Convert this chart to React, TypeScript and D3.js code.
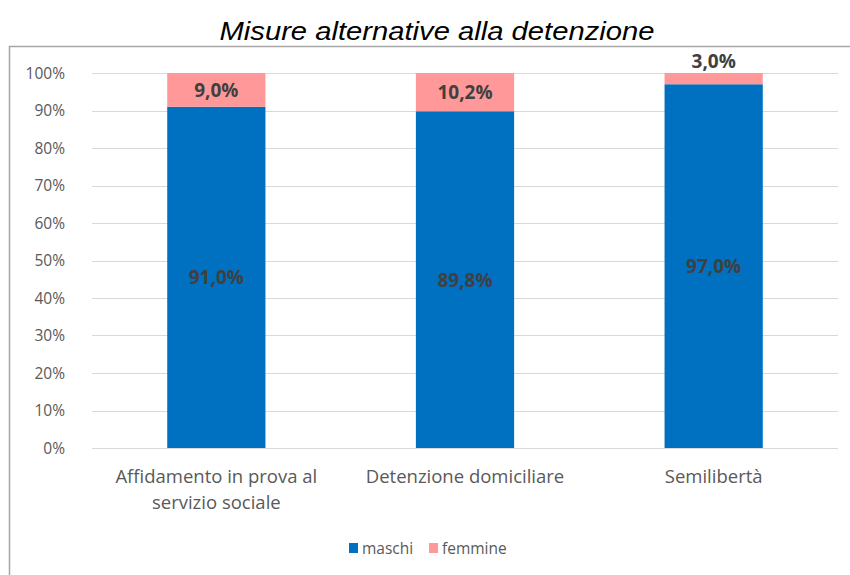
import React, { useEffect, useRef } from "react";
import * as d3 from "d3";

const categories = [
  ["Affidamento in prova al", "servizio sociale"],
  ["Detenzione domiciliare"],
  ["Semilibertà"],
];
const maschi = [91.0, 89.8, 97.0];
const femmine = [9.0, 10.2, 3.0];
const seriesNames = ["maschi", "femmine"];
const seriesColors = ["#0070C0", "#FF9999"];
const yTicks = [0, 10, 20, 30, 40, 50, 60, 70, 80, 90, 100];

const fmt = (v: number) => v.toFixed(1).replace(".", ",") + "%";

const App = () => {
  const ref = useRef<SVGSVGElement | null>(null);

  useEffect(() => {
    const svg = d3.select(ref.current);
    svg.selectAll("*").remove();

    const width = 850;
    const height = 575;
    const font = "'Open Sans', 'Noto Sans', sans-serif";

    svg.append("rect").attr("width", width).attr("height", height).attr("fill", "#fff");

    // chart frame
    svg
      .append("path")
      .attr("d", `M9.5,${height} V46.5 H${width}`)
      .attr("fill", "none")
      .attr("stroke", "#a6a6a6")
      .attr("stroke-width", 1.5);

    svg
      .append("text")
      .attr("x", 437)
      .attr("y", 40)
      .attr("text-anchor", "middle")
      .attr("textLength", 435)
      .attr("lengthAdjust", "spacingAndGlyphs")
      .style("font-family", "'Liberation Sans', Arial, sans-serif")
      .style("font-style", "italic")
      .style("font-size", "25px")
      .attr("fill", "#000")
      .text("Misure alternative alla detenzione");

    const idx = categories.map((_, i) => String(i));
    const x = d3.scaleBand().domain(idx).range([92, 838]).paddingInner(0.605).paddingOuter(0.3025);
    const y = d3.scaleLinear().domain([0, 100]).range([448, 73]);

    // gridlines
    svg
      .append("g")
      .selectAll("line")
      .data(yTicks)
      .join("line")
      .attr("x1", 92)
      .attr("x2", 838)
      .attr("y1", (d) => Math.round(y(d)) + 0.5)
      .attr("y2", (d) => Math.round(y(d)) + 0.5)
      .attr("stroke", "#d9d9d9")
      .attr("stroke-width", 1);

    svg
      .append("g")
      .selectAll("text")
      .data(yTicks)
      .join("text")
      .attr("x", 65)
      .attr("y", (d) => y(d) + 5.5)
      .attr("text-anchor", "end")
      .style("font-family", font)
      .style("font-size", "15.5px")
      .attr("fill", "#595959")
      .text((d) => d + "%");

    // stacked bars
    const rows = categories.map((_, i) => [maschi[i], femmine[i]]);
    const bars = svg.append("g");
    rows.forEach((vals, i) => {
      let base = 0;
      vals.forEach((v, s) => {
        const top = base + v;
        bars
          .append("rect")
          .attr("x", x(String(i))!)
          .attr("width", x.bandwidth())
          .attr("y", y(top))
          .attr("height", y(base) - y(top))
          .attr("fill", seriesColors[s]);
        const segH = y(base) - y(top);
        const ly = segH < 20 ? y(top) - 5 : (y(base) + y(top)) / 2 + 7;
        bars
          .append("text")
          .attr("x", x(String(i))! + x.bandwidth() / 2)
          .attr("y", ly)
          .attr("text-anchor", "middle")
          .style("font-family", font)
          .style("font-size", "19px")
          .style("font-weight", "bold")
          .attr("fill", "#404040")
          .text(fmt(v));
        base = top;
      });
    });

    // category labels
    const cat = svg.append("g");
    categories.forEach((lines, i) => {
      lines.forEach((line, j) => {
        cat
          .append("text")
          .attr("x", x(String(i))! + x.bandwidth() / 2)
          .attr("y", 483 + j * 26)
          .attr("text-anchor", "middle")
          .style("font-family", font)
          .style("font-size", "18.5px")
          .attr("fill", "#595959")
          .text(line);
      });
    });

    // legend
    const legendX = [349, 429];
    const legend = svg.append("g");
    seriesNames.forEach((name, i) => {
      legend
        .append("rect")
        .attr("x", legendX[i])
        .attr("y", 543)
        .attr("width", 9)
        .attr("height", 10)
        .attr("fill", seriesColors[i]);
      legend
        .append("text")
        .attr("x", legendX[i] + 13)
        .attr("y", 554)
        .style("font-family", font)
        .style("font-size", "15.5px")
        .attr("fill", "#595959")
        .text(name);
    });
  }, []);

  return (
    <svg
      ref={ref}
      width={850}
      height={575}
      style={{ position: "absolute", left: 0, top: 0, display: "block" }}
    />
  );
};

export default App;
